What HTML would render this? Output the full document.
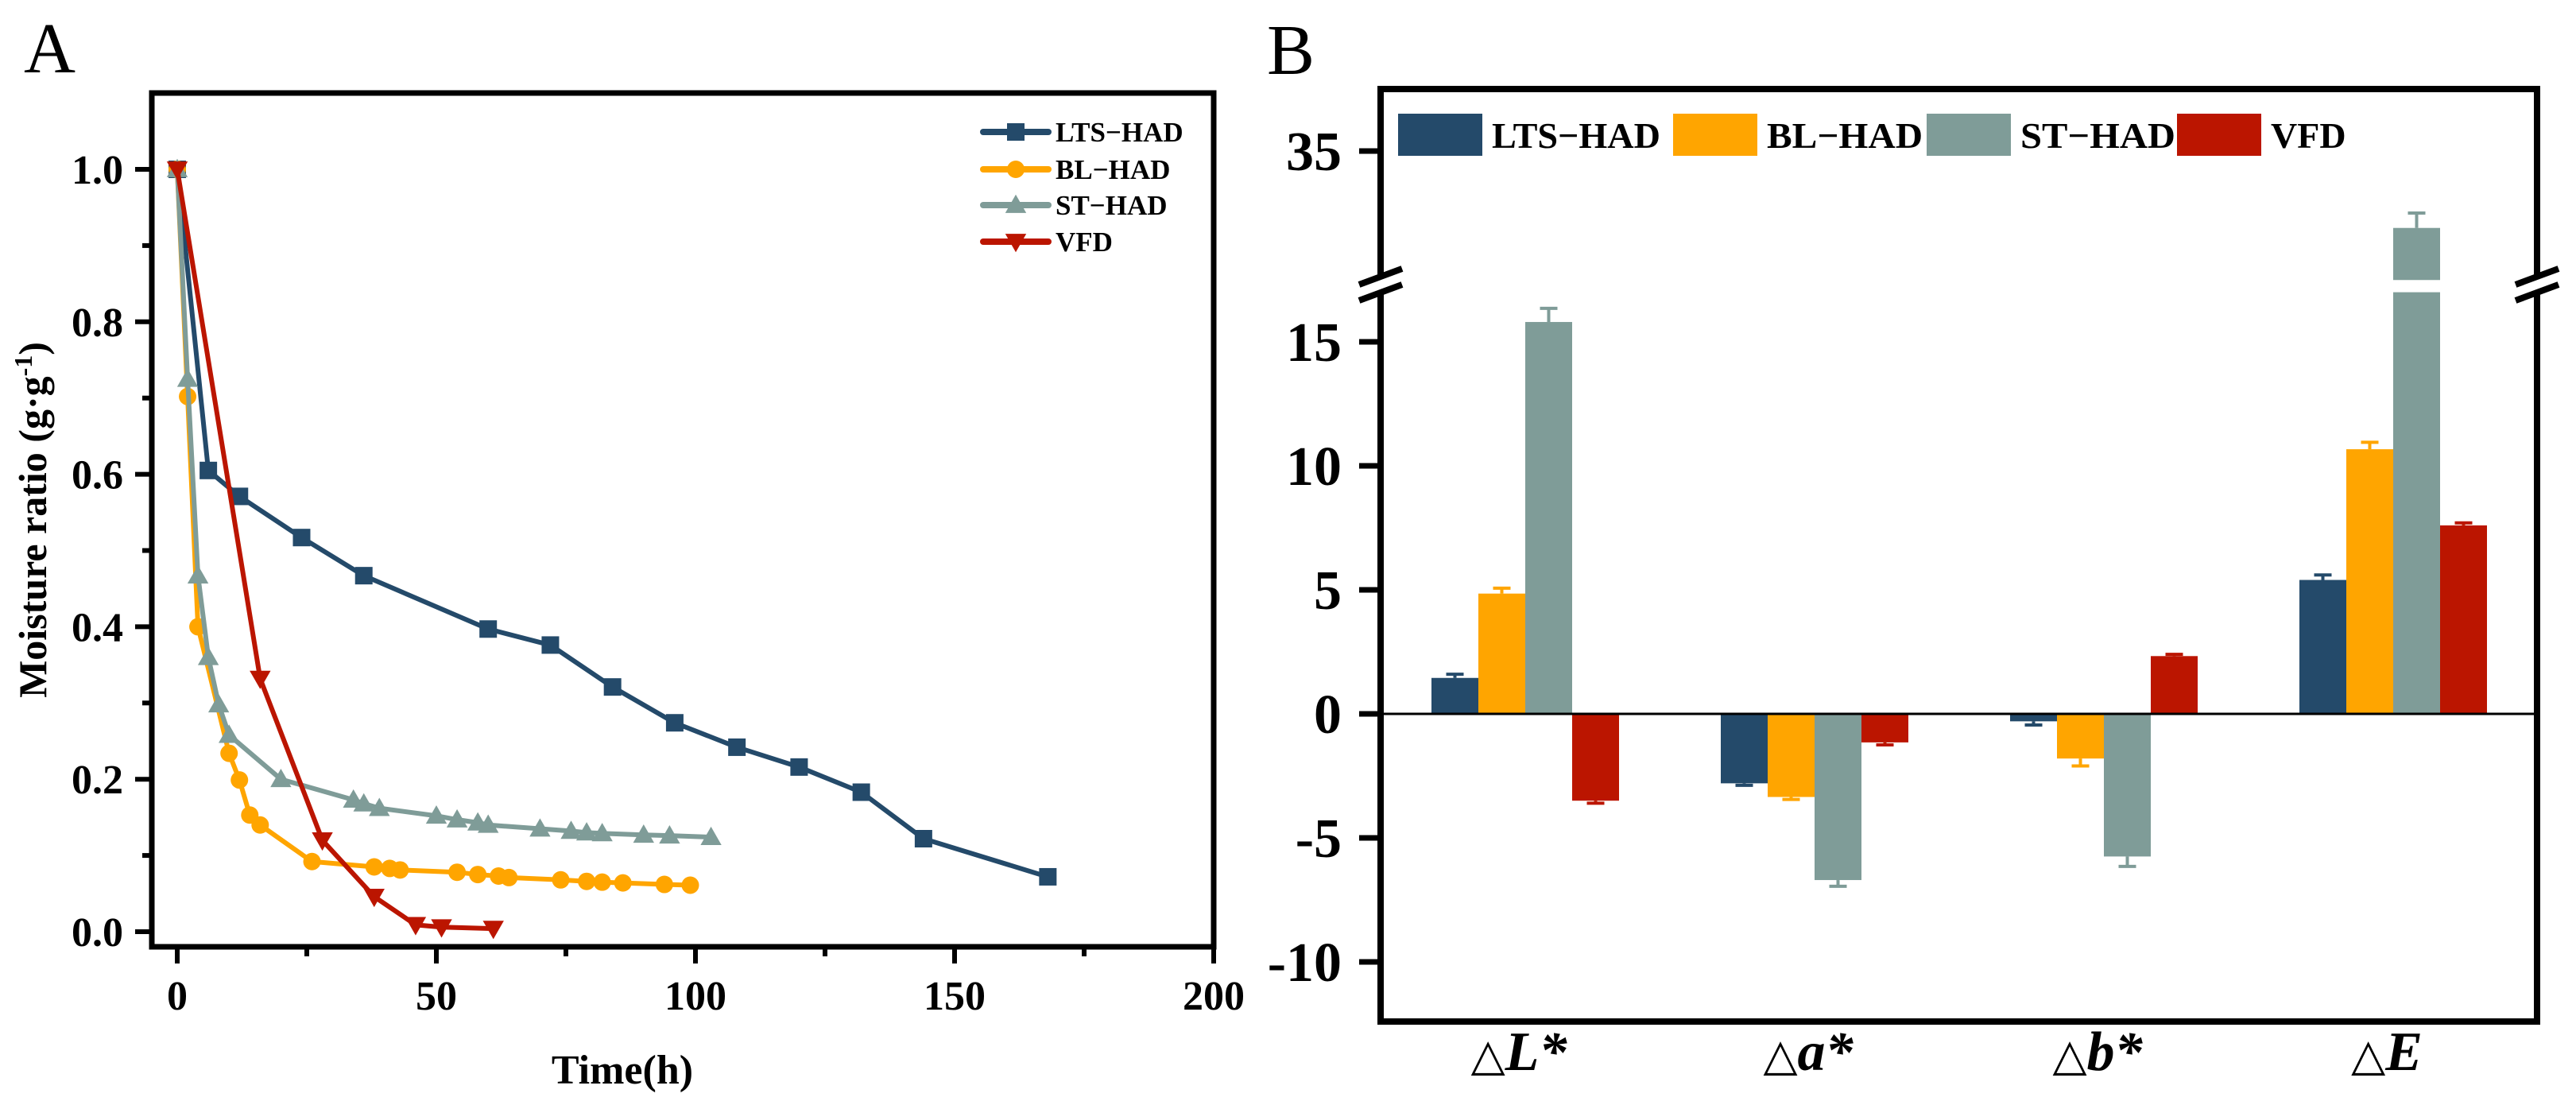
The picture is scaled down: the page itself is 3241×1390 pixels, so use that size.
<!DOCTYPE html>
<html><head><meta charset="utf-8"><style>
html,body{margin:0;padding:0;background:#fff;width:3241px;height:1390px;overflow:hidden}
svg{display:block;font-family:"Liberation Serif",serif}
</style></head><body>
<svg id="fig" width="3241" height="1390" viewBox="0 0 3241 1390" xmlns="http://www.w3.org/2000/svg">
<g id="pa"></g>
<g id="pb"></g>
</svg>
<script>
// ---------- Panel A data ----------
const ltsT=[0,6,12,24,36,60,72,84,96,108,120,132,144,168];
const ltsV=[1.0,0.605,0.571,0.517,0.467,0.397,0.376,0.321,0.274,0.242,0.216,0.183,0.122,0.072];
const blT=[0,2,4,10,12,14,16,26,38,41,43,54,58,62,64,74,79,82,86,94,99];
const blV=[1.0,0.702,0.40,0.234,0.199,0.153,0.14,0.092,0.085,0.083,0.081,0.078,0.075,0.073,0.071,0.068,0.066,0.065,0.064,0.062,0.061];
const stT=[0,2,4,6,8,10,20,34,36,39,50,54,58,60,70,76,79,82,90,95,103];
const stV=[1.0,0.725,0.467,0.36,0.298,0.258,0.2,0.173,0.168,0.162,0.152,0.147,0.143,0.14,0.135,0.132,0.13,0.129,0.127,0.126,0.124];
const vfdT=[0,16,28,38,46,51,61];
const vfdV=[1.0,0.332,0.12,0.046,0.009,0.006,0.004];
const xTicksA=[0,50,100,150,200];
const yTicksA=[0.0,0.2,0.4,0.6,0.8,1.0];
const yTickLabelsA=["0.0","0.2","0.4","0.6","0.8","1.0"];
// ---------- Panel B data ----------
const cats=["L*","a*","b*","E"];
const seriesNames=["LTS\u2212HAD","BL\u2212HAD","ST\u2212HAD","VFD"];
const ltsB=[1.45,-2.8,-0.3,5.4];
const ltsE=[0.15,0.08,0.15,0.2];
const blB=[4.85,-3.35,-1.8,10.67];
const blE=[0.22,0.1,0.3,0.28];
const stB=[15.8,-6.7,-5.75,31.9];
const stE=[0.55,0.25,0.4,0.6];
const vfdB=[-3.5,-1.15,2.33,7.6];
const vfdE=[0.1,0.1,0.07,0.1];
const yTicksB=[-10,-5,0,5,10,15,35];

const NS="http://www.w3.org/2000/svg";
function mk(parent,tag,attrs,text){const e=document.createElementNS(NS,tag);for(const k in attrs)e.setAttribute(k,attrs[k]);if(text!==undefined)e.textContent=text;parent.appendChild(e);return e;}
const colors=["#244a6a","#ffa500","#7f9c98","#bb1500"];

// ===== Panel A =====
const pa=document.getElementById('pa');
const ax=t=>223+t*6.52;
const ay=v=>1172-v*959;
let e;
e=mk(pa,'text',{x:30,y:91,'font-size':90},'A');


// frame
e=mk(pa,'rect',{x:191,y:117,width:1336,height:1074,fill:'none',stroke:'#000','stroke-width':7});


// y ticks
for(let i=0;i<=10;i++){const v=i/10;const major=i%2===0;
 e=mk(pa,'line',{x1:major?170:179,x2:191,y1:ay(v),y2:ay(v),stroke:'#000','stroke-width':6});
 
 }
yTicksA.forEach((v,i)=>{e=mk(pa,'text',{x:155,y:ay(v)+18,'font-size':52,'font-weight':'bold','text-anchor':'end'},yTickLabelsA[i]);
 
 });
for(let t=0;t<=200;t+=25){const major=t%50===0;
 e=mk(pa,'line',{x1:ax(t),x2:ax(t),y1:1191,y2:major?1212:1203,stroke:'#000','stroke-width':6});
 
 }
xTicksA.forEach(t=>{e=mk(pa,'text',{x:ax(t),y:1270,'font-size':52,'font-weight':'bold','text-anchor':'middle'},String(t));
 
 });
e=mk(pa,'text',{x:783,y:1363,'font-size':52,'font-weight':'bold','text-anchor':'middle'},'Time(h)');


e=mk(pa,'text',{x:0,y:0,'font-size':50,'font-weight':'bold','text-anchor':'middle',transform:'translate(58,654) rotate(-90)'});


mk(e,'tspan',{},'Moisture ratio (g\u00b7g');
mk(e,'tspan',{dy:-18,'font-size':32},'-1');
mk(e,'tspan',{dy:18},')');

function marker(g,type,x,y,c,s){
 if(type==='sq') return mk(g,'rect',{x:x-s/2,y:y-s/2,width:s,height:s,fill:c});
 if(type==='ci') return mk(g,'circle',{cx:x,cy:y,r:s/2,fill:c});
 if(type==='up') return mk(g,'polygon',{points:`${x},${y-s*0.6} ${x-s*0.6},${y+s*0.45} ${x+s*0.6},${y+s*0.45}`,fill:c});
 return mk(g,'polygon',{points:`${x},${y+s*0.6} ${x-s*0.6},${y-s*0.45} ${x+s*0.6},${y-s*0.45}`,fill:c});
}
const seriesA=[[ltsT,ltsV,'sq','lts-had'],[blT,blV,'ci','bl-had'],[stT,stV,'up','st-had'],[vfdT,vfdV,'dn','vfd']];
seriesA.forEach((s,k)=>{
 const g=mk(pa,'g',{});
 
 
 const pts=s[0].map((t,i)=>ax(t)+','+ay(s[1][i])).join(' ');
 e=mk(g,'polyline',{points:pts,fill:'none',stroke:colors[k],'stroke-width':6,'stroke-linejoin':'round'});
 
 
 s[0].forEach((t,i)=>{e=marker(g,s[2],ax(t),ay(s[1][i]),colors[k],22);
  
  });
});
// legend A
const legA=mk(pa,'g',{});


const lgTypes=['sq','ci','up','dn'];const lgY=[166,213,258,304];
seriesNames.forEach((n,k)=>{
 const g=mk(legA,'g',{});
 
 
 mk(g,'line',{x1:1237,x2:1319,y1:lgY[k],y2:lgY[k],stroke:colors[k],'stroke-width':8,'stroke-linecap':'round'});
 marker(g,lgTypes[k],1278,lgY[k],colors[k],22);
 mk(g,'text',{x:1328,y:lgY[k]+12,'font-size':35,'font-weight':'bold'},n);
});

// ===== Panel B =====
const pb=document.getElementById('pb');
const L=1737,R=3192,T=112,B=1285;
function by(v){ if(v<=17) return 898-31.2*v; return 190-31.2*(v-35); }
e=mk(pb,'text',{x:1594,y:93,'font-size':90},'B');


// bars
const dataB=[ltsB,blB,stB,vfdB];const errB=[ltsE,blE,stE,vfdE];
const keys=['lts-had','bl-had','st-had','vfd'];
const bw=59;
cats.forEach((c,ci)=>{
 const cx=1919+ci*364;
 dataB.forEach((arr,k)=>{
  const v=arr[ci];const x=cx-2*bw+k*bw;const er=errB[k][ci];
  const ex=x+bw/2;
  if(v>17){
   e=mk(pb,'rect',{x:x,y:by(17),width:bw,height:898-by(17),fill:colors[k]});
   
   
   e=mk(pb,'rect',{x:x,y:by(v),width:bw,height:by(29.8)-by(v),fill:colors[k]});
   
   
  } else {
   const y0=Math.min(by(0),by(v)),h=Math.abs(by(v)-by(0));
   e=mk(pb,'rect',{x:x,y:y0,width:bw,height:h,fill:colors[k]});
   
   
  }
  const ve=v>=0?v+er:v-er;
  e=mk(pb,'line',{x1:ex,x2:ex,y1:by(v),y2:by(ve),stroke:colors[k],'stroke-width':4});
  
  
  mk(pb,'line',{x1:ex-11,x2:ex+11,y1:by(ve),y2:by(ve),stroke:colors[k],'stroke-width':4});
 });
 e=mk(pb,'text',{x:cx-8,y:1346,'font-size':70,'font-weight':'bold','text-anchor':'middle'});
 
 
 mk(e,'tspan',{'font-weight':'normal','font-style':'normal','font-family':'DejaVu Sans','font-size':56},'\u25B3');
 mk(e,'tspan',{'font-style':'italic'},c);
});
// zero line
e=mk(pb,'line',{x1:L,x2:R,y1:by(0),y2:by(0),stroke:'#000','stroke-width':3});


// frame with break
e=mk(pb,'path',{d:`M${L},347 L${L},${T} L${R},${T} L${R},347 M${R},368 L${R},${B} L${L},${B} L${L},368`,fill:'none',stroke:'#000','stroke-width':8});


[L,R].forEach(xx=>{
 mk(pb,'rect',{x:xx-22,y:348,width:44,height:19,fill:'#fff'});
 mk(pb,'line',{x1:xx-27,x2:xx+27,y1:358,y2:338,stroke:'#000','stroke-width':8});
 mk(pb,'line',{x1:xx-27,x2:xx+27,y1:378,y2:358,stroke:'#000','stroke-width':8});
});
yTicksB.forEach(v=>{
 e=mk(pb,'line',{x1:1710,x2:L,y1:by(v),y2:by(v),stroke:'#000','stroke-width':7});
 
 
 e=mk(pb,'text',{x:1688,y:by(v)+24,'font-size':70,'font-weight':'bold','text-anchor':'end'},String(v));
 
 
});
// legend B
const legB=mk(pb,'g',{});


const lbx=[1759,2105,2424,2739];
seriesNames.forEach((n,k)=>{
 const g=mk(legB,'g',{});
 
 
 mk(g,'rect',{x:lbx[k],y:143,width:106,height:53,fill:colors[k]});
 mk(g,'text',{x:lbx[k]+118,y:186,'font-size':46,'font-weight':'bold',textLength:[212,196,195,0][k]||null,lengthAdjust:'spacingAndGlyphs'},n);
});
legB.querySelectorAll('text').forEach(t=>{if(t.getAttribute('textLength')==='null')t.removeAttribute('textLength');});
</script>
</body></html>
